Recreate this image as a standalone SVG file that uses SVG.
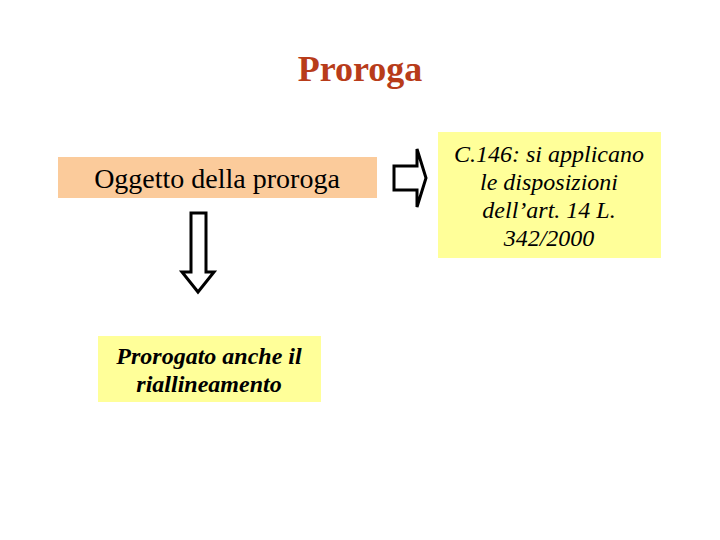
<svg xmlns="http://www.w3.org/2000/svg" width="720" height="540" viewBox="0 0 720 540">
<style>
.t{font-family:'Liberation Serif','DejaVu Serif',serif;text-anchor:middle;fill:#000}
.arrow{fill:#fff;stroke:#000;stroke-width:3;stroke-linejoin:miter}
</style>
<rect width="720" height="540" fill="#fff"/>
<text class="t" x="360" y="81" font-size="36" font-weight="bold" style="fill:#B83C1A">Proroga</text>
<g id="oggetto">
<rect x="58" y="157" width="319" height="41" fill="#FBCB9B"/>
<text class="t" x="217" y="188" font-size="28">Oggetto della proroga</text>
</g>
<g id="c146">
<rect x="438" y="132" width="223" height="126" fill="#FFFF99"/>
<text class="t" x="549" y="162" font-size="24" font-style="italic">C.146: si applicano</text>
<text class="t" x="549" y="190" font-size="24" font-style="italic">le disposizioni</text>
<text class="t" x="549" y="218" font-size="24" font-style="italic">dell’art. 14 L.</text>
<text class="t" x="549" y="246" font-size="24" font-style="italic">342/2000</text>
</g>
<g id="prorogato">
<rect x="98" y="336" width="223" height="66" fill="#FFFF99"/>
<text class="t" x="209" y="364" font-size="24" font-style="italic" font-weight="bold">Prorogato anche il</text>
<text class="t" x="209" y="392" font-size="24" font-style="italic" font-weight="bold">riallineamento</text>
</g>
<g id="connectors">
<path class="arrow" d="M394,166 H417 V149 L426,178 L417,207 V190 H394 Z"/>
<path class="arrow" d="M191,213 H206 V272 H214 L198,292 L182,272 H191 Z"/>
</g>
</svg>
